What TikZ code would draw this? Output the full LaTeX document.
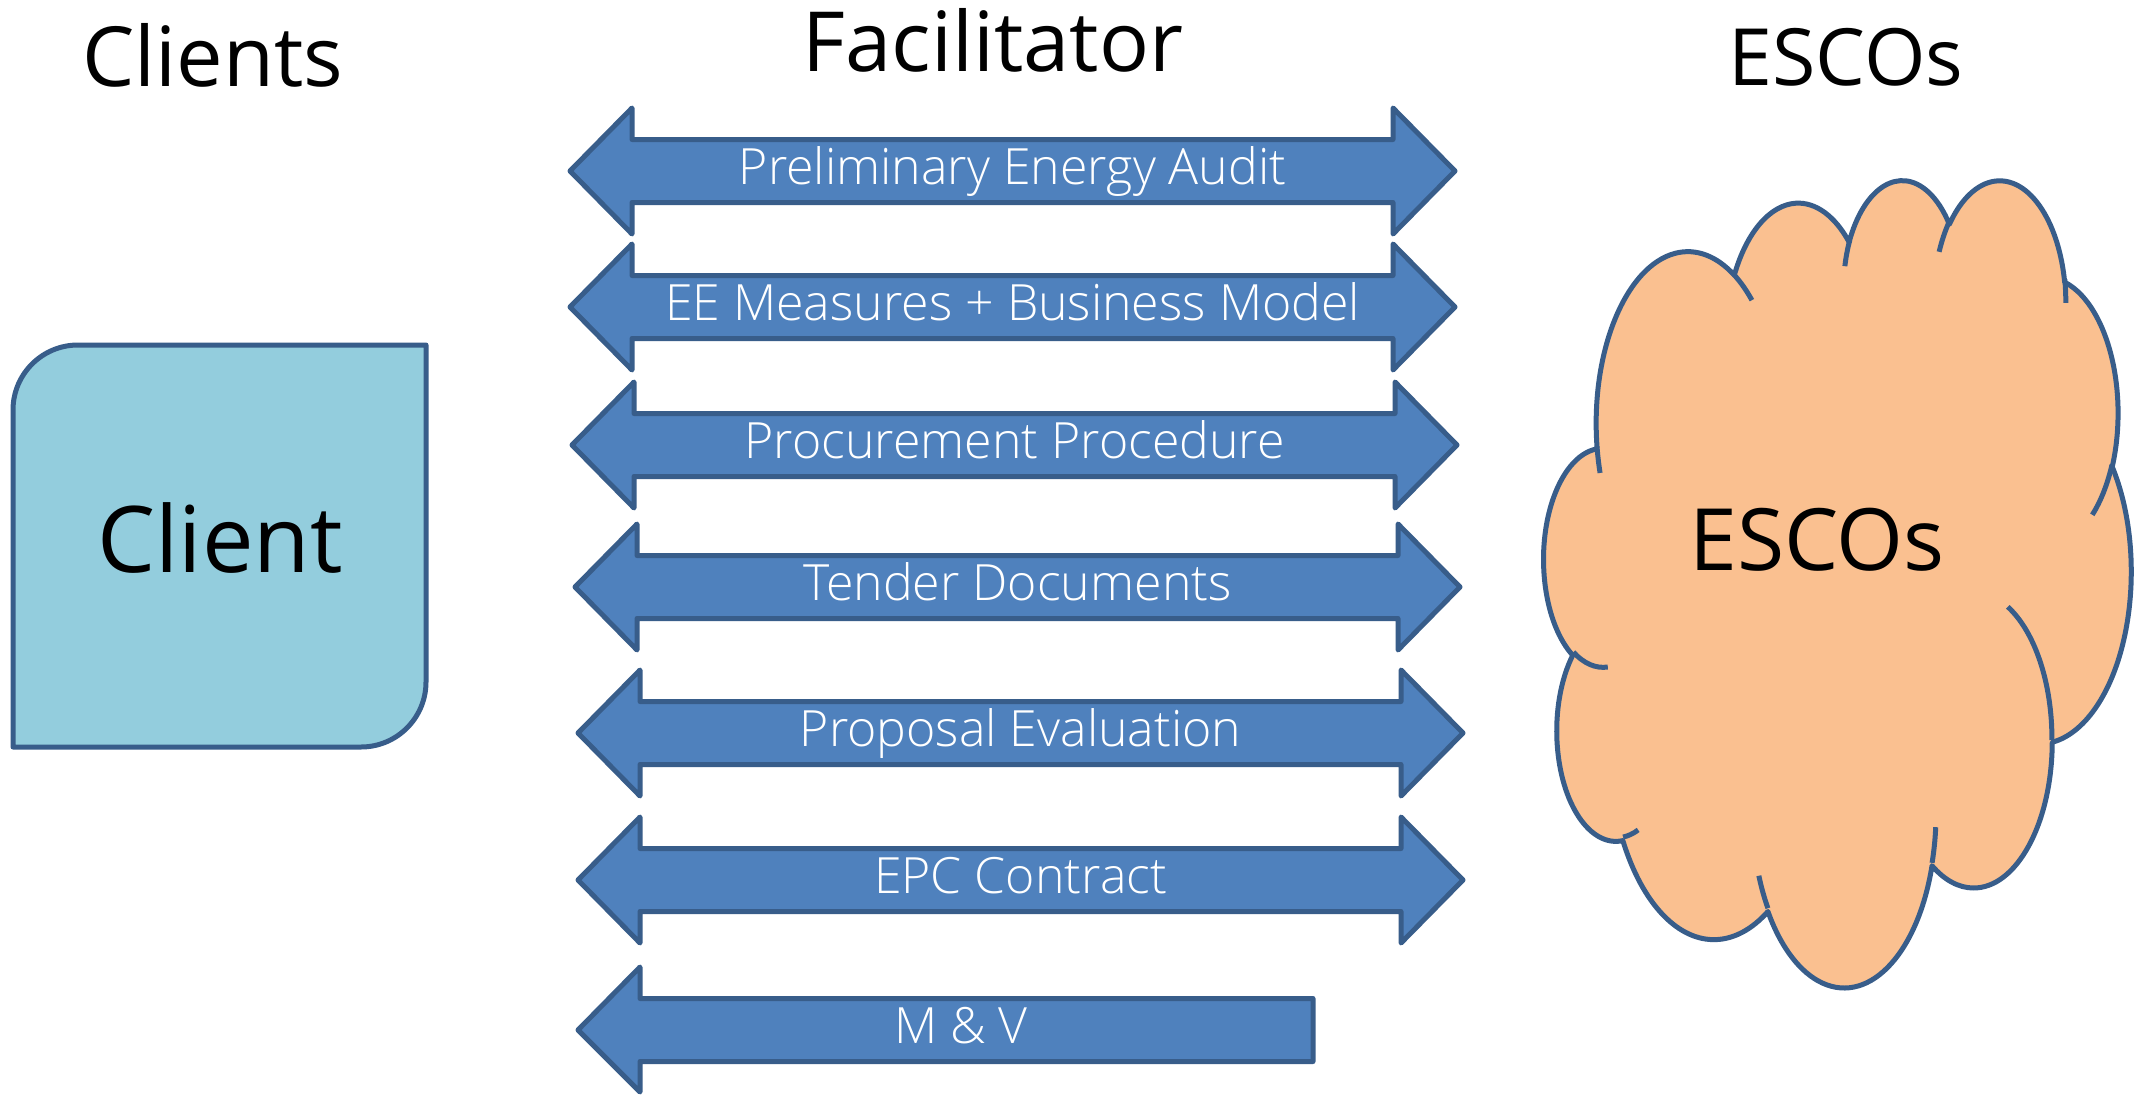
\documentclass[tikz,border=0pt]{standalone}
\usepackage{fontspec}
\setmainfont{Open Sans}
\newfontfamily\lightfont{Open Sans Light}
\definecolor{arrfill}{HTML}{4F81BD}
\definecolor{edgeblue}{HTML}{385D8A}
\definecolor{clientfill}{HTML}{93CDDD}
\definecolor{cloudfill}{HTML}{FAC090}
\tikzset{
  dblarrow/.style={fill=arrfill, draw=edgeblue, line width=5pt, line join=round},
  lbl/.style={text=white, font=\lightfont\fontsize{50}{56}\selectfont, anchor=base, inner sep=0pt},
  bigtext/.style={font=\fontsize{83}{96}\selectfont, anchor=base, inner sep=0pt},
  clientbox/.style={fill=clientfill, draw=edgeblue, line width=5pt, line join=round},
  cloudbody/.style={fill=cloudfill, draw=edgeblue, line width=5pt, line join=round},
  cloudhook/.style={draw=edgeblue, line width=5pt},
  declare function={
    cpa(\cA,\cB,\cT)=atan2(\cA*sin(\cT),\cB*cos(\cT));
    cda(\cA,\cB,\cT,\cW)=cpa(\cA,\cB,\cT+\cW)-cpa(\cA,\cB,\cT)+360*round((\cW-cpa(\cA,\cB,\cT+\cW)+cpa(\cA,\cB,\cT))/360);
  }
}
% office-style arc: x radius, y radius, start angle, sweep (geometric angles)
\newcommand\oarc[4]{arc[x radius=#1, y radius=#2, start angle={cpa(#1,#2,#3)}, delta angle={cda(#1,#2,#3,#4)}]}
\newcommand\mkdbl[5]{%
  \path[dblarrow] (#2,#4) -- (#2+62,#4-63) -- (#2+62,#4-31.5) -- (#3-62,#4-31.5) -- (#3-62,#4-63) -- (#3,#4)
    -- (#3-62,#4+63) -- (#3-62,#4+31.5) -- (#2+62,#4+31.5) -- (#2+62,#4+63) -- cycle;
  \node[lbl] (#1) at ({(#2+#3)/2},#4+13) {#5};
}
\begin{document}
\begin{tikzpicture}[x=1pt,y=-1pt]
\fill[white] (0,0) rectangle (2152,1095);
\useasboundingbox (0,0) rectangle (2152,1095);

% titles
\node[bigtext] (tclients) at (213,86) {Clients};
\node[bigtext] (tfacil) at (993,71) {Facilitator};
\node[bigtext, font=\fontsize{79}{90}\selectfont] (tescos) at (1846,85) {ESCOs};

% client box
\path[clientbox] (13,747) -- (13,410) arc[start angle=180, end angle=90, radius=65pt]
  -- (426,345) -- (426,682) arc[start angle=0, end angle=-90, radius=65pt] -- cycle;
\node[bigtext, font=\fontsize{92}{100}\selectfont] (client) at (220,572) {Client};

% arrows
\mkdbl{a1}{570}{1455}{171}{Preliminary Energy Audit}
\mkdbl{a2}{570}{1455}{307}{EE Measures + Business Model}
\mkdbl{a3}{572}{1457}{445}{Procurement Procedure}
\mkdbl{a4}{575}{1460}{587}{Tender Documents}
\mkdbl{a5}{578}{1463}{733}{Proposal Evaluation}
\mkdbl{a6}{578}{1463}{880}{EPC Contract}
\path[dblarrow] (578,1030) -- (640,967) -- (640,998.5) -- (1313,998.5) -- (1313,1061.5) -- (640,1061.5) -- (640,1092) -- cycle;
\node[lbl] (a7) at (961,1043) {M \& V};

% cloud (office cloud geometry, 432 x 432 units)
\begin{scope}[shift={(1544,178)}, x=1.3588pt, y=-1.8681pt]
\path[cloudbody] (39.00,143.70)
  \oarc{67.53}{91.90}{-190.48748}{123.78053}
  \oarc{53.33}{72.67}{-144.10238}{89.94523}
  \oarc{43.65}{59.45}{-145.80792}{99.72302}
  \oarc{48.57}{65.95}{-130.98607}{117.24173}
  \oarc{53.33}{72.73}{-78.70888}{109.02692}
  \oarc{67.75}{92.20}{-46.26725}{130.269}
  \oarc{57.85}{78.67}{0.62502}{114.03333}
  \oarc{67.52}{92.15}{22.4516}{115.17255}
  \oarc{77.20}{105.43}{66.24263}{75.71102}
  \oarc{43.60}{59.18}{-274.94208}{146.73557}
  \oarc{43.45}{59.45}{-246.8285}{152.51885}
  -- cycle;
\path[cloudhook] (46.93,261.77) \oarc{43.45}{59.45}{86.742}{26.4295};
\path[cloudhook] (69.28,348.99) \oarc{43.60}{59.18}{73.6105}{11.4475};
\path[cloudhook] (164.78,390.90) \oarc{67.52}{92.15}{137.6242}{14.0811};
\path[cloudhook] (288.27,347.51) \oarc{67.52}{92.15}{6.4533}{15.9984};
\path[cloudhook] (341.29,229.54) \oarc{57.85}{78.67}{-70.2924}{70.9174};
\path[cloudhook] (417.98,153.54) \oarc{53.33}{72.73}{30.3180}{27.7515};
\path[cloudhook] (383.24,54.26) \oarc{48.57}{65.95}{-13.7443}{14.8589};
\path[cloudhook] (290.78,39.52) \oarc{48.57}{65.95}{-149.1815}{18.1954};
\path[cloudhook] (221.41,47.20) \oarc{43.65}{59.45}{-163.4943}{17.6864};
\path[cloudhook] (140.00,51.92) \oarc{67.53}{91.90}{-66.7070}{12.3194};
\path[cloudhook] (41.27,157.89) \oarc{67.53}{91.90}{157.6544}{11.8582};
\end{scope}
\node[bigtext, font=\fontsize{86}{96}\selectfont] (escos) at (1817,570) {ESCOs};
\end{tikzpicture}
\end{document}
